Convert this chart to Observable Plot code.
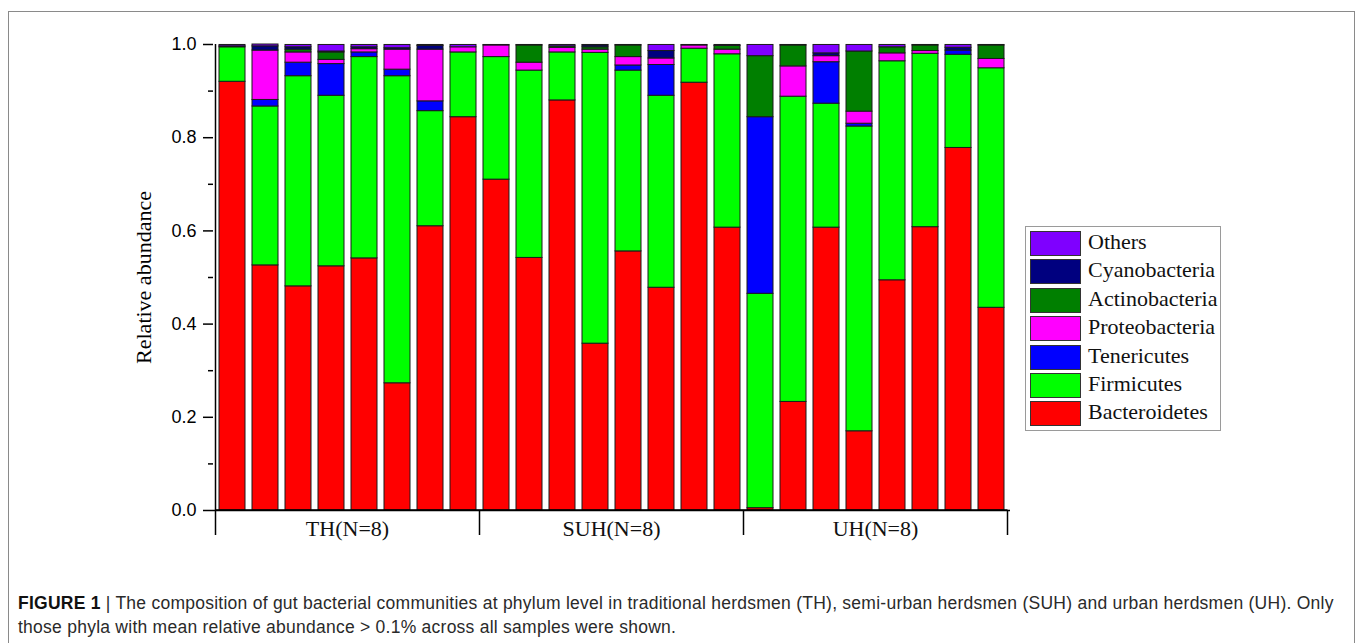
<!DOCTYPE html>
<html><head><meta charset="utf-8">
<script src="https://cdn.jsdelivr.net/npm/d3@7"></script>
<script src="https://cdn.jsdelivr.net/npm/@observablehq/plot@0.6"></script>
<style>
body{margin:0;background:#fff;width:1360px;height:643px;overflow:hidden;position:relative;font-family:"Liberation Sans",Arial,sans-serif;}
#frame{position:absolute;left:8px;top:11px;width:1347px;height:700px;border:1.5px solid #8a8a8a;box-sizing:border-box;}
#chart{position:absolute;left:0;top:0;}
#legend{position:absolute;left:1025px;top:226px;width:196px;height:205px;border:1.5px solid #9a9a9a;box-sizing:border-box;background:#fff;}
.lrow{position:absolute;left:4px;height:25px;}
.sw{position:absolute;left:0;top:0;width:49px;height:23px;border:1px solid #333;}
.lt{position:absolute;left:58px;top:-3px;font-family:"Liberation Serif","Times New Roman",serif;font-size:22px;line-height:28px;white-space:nowrap;color:#111;}
#caption{position:absolute;left:18px;top:591px;font-family:"Liberation Sans",Arial,sans-serif;font-size:17.5px;letter-spacing:0.25px;line-height:24px;color:#2a2a2a;white-space:nowrap;}
#caption b{color:#111;}
[aria-label="y-axis label"] text{font-family:"Liberation Serif","Times New Roman",serif;font-size:22px;}
</style>
</head><body>
<div id="frame"></div>
<div id="chart"></div>
<div id="legend"></div>
<div id="caption"><b>FIGURE 1</b> | The composition of gut bacterial communities at phylum level in traditional herdsmen (TH), semi-urban herdsmen (SUH) and urban herdsmen (UH). Only<br>those phyla with mean relative abundance &gt; 0.1% across all samples were shown.</div>
<script>
// ---- data ----
const samples = ["TH1","TH2","TH3","TH4","TH5","TH6","TH7","TH8",
                 "SUH1","SUH2","SUH3","SUH4","SUH5","SUH6","SUH7","SUH8",
                 "UH1","UH2","UH3","UH4","UH5","UH6","UH7","UH8"];
const groups = ["TH(N=8)","SUH(N=8)","UH(N=8)"];
const groupOf = ["TH(N=8)","TH(N=8)","TH(N=8)","TH(N=8)","TH(N=8)","TH(N=8)","TH(N=8)","TH(N=8)",
                 "SUH(N=8)","SUH(N=8)","SUH(N=8)","SUH(N=8)","SUH(N=8)","SUH(N=8)","SUH(N=8)","SUH(N=8)",
                 "UH(N=8)","UH(N=8)","UH(N=8)","UH(N=8)","UH(N=8)","UH(N=8)","UH(N=8)","UH(N=8)"];
const phyla = ["Bacteroidetes","Firmicutes","Tenericutes","Proteobacteria","Actinobacteria","Cyanobacteria","Others"];
const phylaColors = ["#ff0000","#00ff00","#0000ff","#ff00ff","#007f00","#00007f","#7f00ff"];

const bacteroidetes  = [0.920,0.526,0.481,0.524,0.541,0.273,0.610,0.844, 0.710,0.542,0.880,0.358,0.556,0.478,0.918,0.607, 0.005,0.233,0.607,0.170,0.494,0.608,0.778,0.435];
const firmicutes     = [0.074,0.341,0.451,0.366,0.432,0.659,0.247,0.139, 0.263,0.402,0.103,0.624,0.388,0.412,0.073,0.372, 0.460,0.655,0.266,0.654,0.470,0.372,0.200,0.514];
const tenericutes    = [0,0.014,0.029,0.068,0.010,0.014,0.021,0, 0,0,0,0,0.011,0.066,0,0, 0.379,0,0.089,0.006,0,0,0.009,0];
const proteobacteria = [0.002,0.106,0.022,0.009,0.007,0.043,0.111,0.011, 0.025,0.017,0.010,0.007,0.018,0.014,0.007,0.010, 0,0.065,0.013,0.026,0.017,0.006,0,0.020];
const actinobacteria = [0,0,0.006,0.016,0,0,0,0, 0,0.037,0.003,0.005,0.025,0,0,0.008, 0.131,0.045,0,0.129,0.013,0.012,0,0.029];
const cyanobacteria  = [0,0.009,0.005,0.002,0.004,0.003,0.008,0, 0,0,0,0.004,0,0.016,0,0, 0,0,0.006,0,0,0,0.006,0];
const others         = [0.003,0.004,0.005,0.014,0.005,0.007,0.002,0.005, 0.001,0.001,0.003,0.001,0.001,0.013,0.001,0.002, 0.024,0.001,0.018,0.014,0.005,0.001,0.006,0.001];

const yTicks = [0, 0.2, 0.4, 0.6, 0.8, 1.0];
const yMinorTicks = [0.1, 0.3, 0.5, 0.7, 0.9];

const seriesValues = [bacteroidetes, firmicutes, tenericutes, proteobacteria, actinobacteria, cyanobacteria, others];
const rows = phyla.flatMap((p, i) => samples.map((s, j) => ({sample: s, phylum: p, value: seriesValues[i][j]})));

const chart = Plot.plot({
  width: 1360, height: 560,
  marginLeft: 213, marginRight: 350, marginTop: 44, marginBottom: 50,
  style: {fontFamily: "'Liberation Sans', Arial, sans-serif", fontSize: "18px", color: "#000", background: "transparent"},
  x: {domain: samples, paddingInner: 0.2, paddingOuter: 0.07, axis: null},
  y: {domain: [0, 1]},
  color: {domain: phyla, range: phylaColors},
  marks: [
    Plot.barY(rows, {x: "sample", y: "value", fill: "phylum", stroke: "#1a1a1a", strokeWidth: 1, filter: d => d.value > 0}),
    Plot.axisY({ticks: yTicks, tickFormat: ".1f", tickSize: 10, tickPadding: 7, strokeWidth: 1.5,
                label: "Relative abundance", labelAnchor: "center", labelOffset: 78, labelArrow: "none"}),
    Plot.axisY({ticks: yMinorTicks, tickSize: 5, strokeWidth: 1.5, tickFormat: () => "", label: null}),
    Plot.ruleY([0], {strokeWidth: 1.5, stroke: "#000"})
  ]
});
document.getElementById("chart").appendChild(chart);

// left axis line, group dividers and group labels, placed through the scales
const xs = chart.scale("x"), ys = chart.scale("y");
const svg = d3.select(chart);
const gap = xs.step - xs.bandwidth;
const y0 = ys.apply(0), y1 = ys.apply(1);
const g = svg.append("g");
const firstIdx = groups.map(gr => groupOf.indexOf(gr));
const lastIdx = groups.map(gr => groupOf.lastIndexOf(gr));
const bounds = firstIdx.map(i => xs.apply(samples[i]) - gap / 2);
bounds.push(xs.apply(samples[samples.length - 1]) + xs.bandwidth + gap / 2);
const leftX = bounds[0];
g.append("line").attr("x1", leftX).attr("x2", leftX).attr("y1", y1).attr("y2", y0)
  .attr("stroke", "#000").attr("stroke-width", 1.5);
bounds.forEach(b => g.append("line").attr("x1", b).attr("x2", b).attr("y1", y0).attr("y2", y0 + 25)
  .attr("stroke", "#000").attr("stroke-width", 1.5));
g.append("line").attr("x1", leftX).attr("x2", bounds[bounds.length-1]).attr("y1", y0).attr("y2", y0)
  .attr("stroke", "#000").attr("stroke-width", 1.5);
groups.forEach((gr, k) => {
  const cx = (xs.apply(samples[firstIdx[k]]) + xs.apply(samples[lastIdx[k]]) + xs.bandwidth) / 2;
  g.append("text").attr("x", cx).attr("y", y0 + 26).attr("text-anchor", "middle")
    .attr("font-family", "'Liberation Serif','Times New Roman',serif").attr("font-size", 22).attr("fill", "#111")
    .text(gr);
});

// legend (top to bottom: reverse of stack order)
const legend = d3.select("#legend");
phyla.slice().reverse().forEach((p, i) => {
  const row = legend.append("div").attr("class", "lrow").style("top", (4 + i * 28.4) + "px");
  row.append("div").attr("class", "sw").style("background", phylaColors[phyla.indexOf(p)]);
  row.append("div").attr("class", "lt").text(p);
});
</script>
</body></html>
